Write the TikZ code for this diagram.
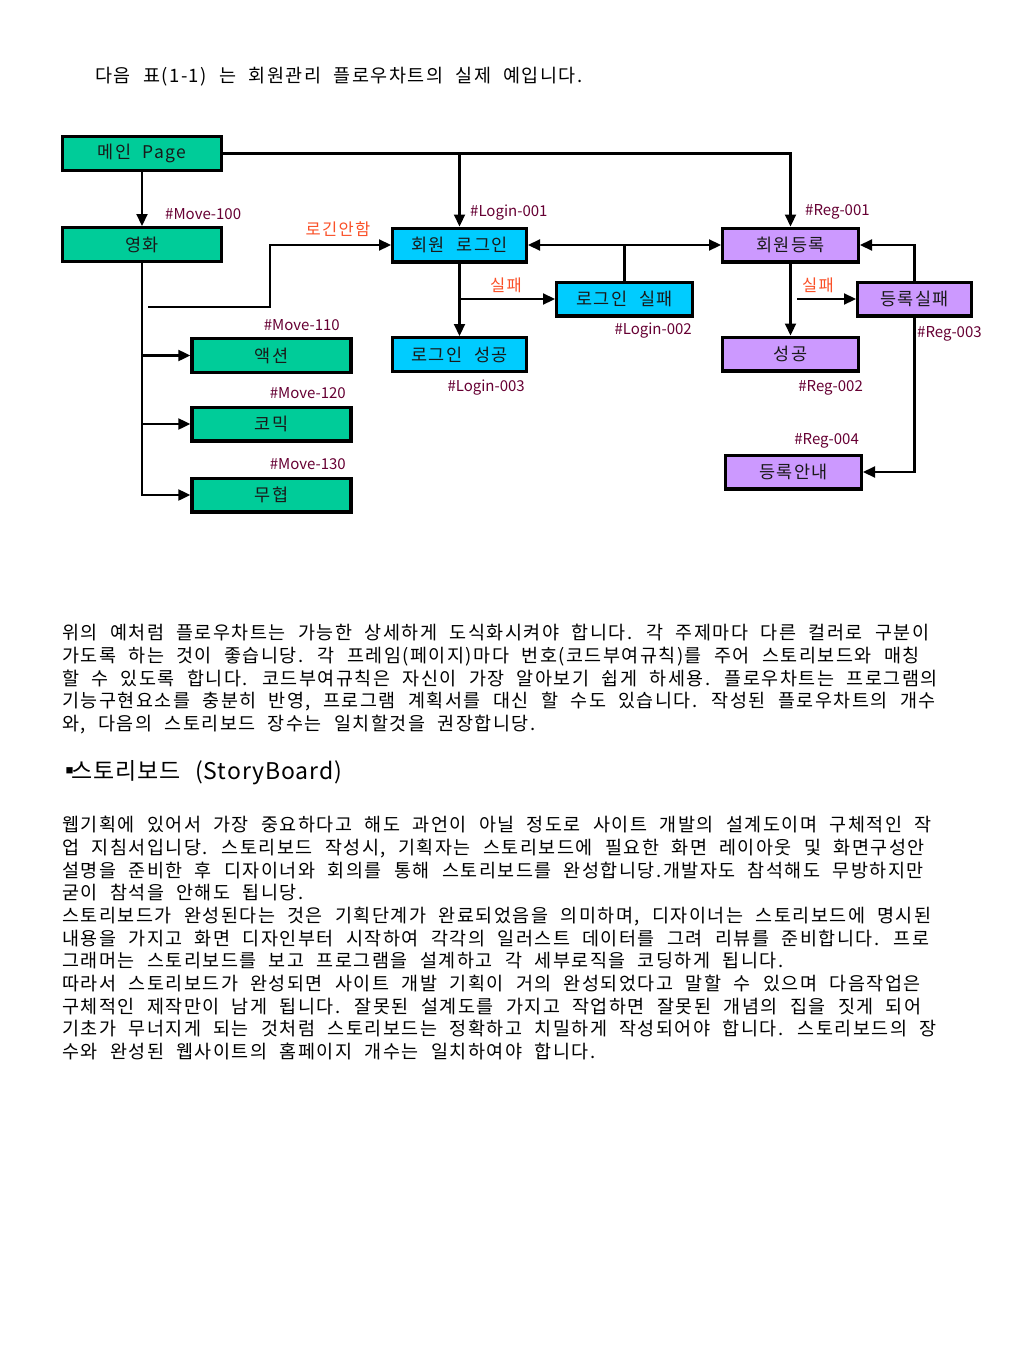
\documentclass[tikz,border=0pt]{standalone}
\usepackage{fontspec}
\newfontfamily\kr[WordSpace=2.2,LetterSpace=8]{Noto Sans CJK KR}
\newfontfamily\krh[WordSpace=2.4,LetterSpace=4]{Noto Sans CJK KR}
\newfontfamily\krn{Noto Sans CJK KR}
\usetikzlibrary{arrows.meta,positioning,calc}
\definecolor{mvgreen}{RGB}{0,204,153}
\definecolor{lgblue}{RGB}{0,204,255}
\definecolor{rgpurple}{RGB}{204,153,255}
\definecolor{codered}{RGB}{102,0,51}
\definecolor{failred}{RGB}{250,80,40}

\begin{document}
\begin{tikzpicture}[x=1pt, y=-1pt,
    box/.style={draw, line width=3.4pt, minimum width=135.6pt, minimum height=33.6pt, inner sep=0pt, align=center, font=\kr\fontsize{17.5}{17.5}\selectfont, text=black!90},
    grn/.style={box, fill=mvgreen, minimum width=159pt},
    blu/.style={box, fill=lgblue},
    pur/.style={box, fill=rgpurple},
    arr/.style={-{Triangle[length=12pt,width=11pt]}, line width=2.2pt},
    ln/.style={line width=2.2pt},
    code/.style={font=\krn\fontsize{15}{15}\selectfont, text=codered, inner sep=0pt},
    fail/.style={font=\kr\fontsize{16.5}{16.5}\selectfont, text=failred, inner sep=0pt},
    para/.style={anchor=north west, align=left, inner sep=0pt, font=\kr\fontsize{18.5}{22.7}\selectfont}
]
\useasboundingbox (0,0) rectangle (1024,1365);

\node[anchor=west, inner sep=0pt, font=\kr\fontsize{18.5}{18.5}\selectfont] (T) at (95,77) {다음 표(1-1) 는 회원관리 플로우차트의 실제 예입니다.};

\node[grn] (MP) at (142,153.5) {메인 Page};
\node[grn] (MV) at (142,244.5) {영화};
\node[grn] (AC) at (271.5,355.5) {액션};
\node[grn] (CO) at (271.5,424) {코믹};
\node[grn] (WU) at (271.5,495) {무협};
\node[blu, minimum width=133.6pt] (LG) at (459.5,245) {회원 로그인};
\node[blu] (LF) at (624.5,299) {로그인 실패};
\node[blu, minimum width=133.6pt] (LS) at (459.5,354.5) {로그인 성공};
\node[pur] (RG) at (790.5,245) {회원등록};
\node[pur, minimum width=113.6pt] (RF) at (914.5,299) {등록실패};
\node[pur] (RS) at (790.5,354) {성공};
\node[pur] (RI) at (793.5,472) {등록안내};

\node[code, anchor=west] (C100) at (165,214) {\#Move-100};
\node[code, anchor=east] (C110) at (340,325) {\#Move-110};
\node[code, anchor=east] (C120) at (346,393) {\#Move-120};
\node[code, anchor=east] (C130) at (346,464) {\#Move-130};
\node[code, anchor=west] (L001) at (470,213) {\#Login-001};
\node[code, anchor=east] (L002) at (692,331) {\#Login-002};
\node[code, anchor=east] (L003) at (525,388) {\#Login-003};
\node[code, anchor=west] (R001) at (805,212) {\#Reg-001};
\node[code, anchor=east] (R002) at (863,388) {\#Reg-002};
\node[code, anchor=west] (R003) at (917,334) {\#Reg-003};
\node[code, anchor=east] (R004) at (859,441) {\#Reg-004};
\node[fail] (NL) at (338,229) {로긴안함};
\node[fail] (F1) at (506,285) {실패};
\node[fail] (F2) at (818,285) {실패};

\coordinate (nl0) at (148,307);
\coordinate (nl1) at (270,245);
\coordinate (lfj) at (LF.north |- LG.east);
\coordinate (rf0) at (797,299);

\draw[arr] (MP) -- (MV);
\draw[arr] (MP.east) -| (RG.north);
\draw[arr] (LG.north |- MP.east) -- (LG.north);
\draw[arr] (MV.south) |- (AC.west);
\draw[arr] (MV.south) |- (CO.west);
\draw[arr] (MV.south) |- (WU.west);
\draw[arr] (nl0) -| (nl1) -- (LG.west);
\draw[arr] (LG) -- (LS);
\draw[arr] (LG.south |- LF.west) -- (LF.west);
\draw[ln] (LF.north) -- (lfj);
\draw[arr] (lfj) -- (LG.east);
\draw[arr] (lfj) -- (RG.west);
\draw[arr] (RG) -- (RS);
\draw[arr] (rf0) -- (RF.west);
\draw[arr] (RF.north) |- (RG.east);
\draw[arr] (RF.south) |- (RI.east);

\node[para] (P1) at (62,624) {위의 예처럼 플로우차트는 가능한 상세하게 도식화시켜야 합니다. 각 주제마다 다른 컬러로 구분이\\
가도록 하는 것이 좋습니당. 각 프레임(페이지)마다 번호(코드부여규칙)를 주어 스토리보드와 매칭\\
할 수 있도록 합니다. 코드부여규칙은 자신이 가장 알아보기 쉽게 하세용. 플로우차트는 프로그램의\\
기능구현요소를 충분히 반영, 프로그램 계획서를 대신 할 수도 있습니다. 작성된 플로우차트의 개수\\
와, 다음의 스토리보드 장수는 일치할것을 권장합니당.};

\node[anchor=west, inner sep=0pt, font=\krh\fontsize{23}{23}\selectfont] (H) at (58,773) {▪\hspace{-10pt}스토리보드 (StoryBoard)};

\node[para] (P2) at (62,816) {웹기획에 있어서 가장 중요하다고 해도 과언이 아닐 정도로 사이트 개발의 설계도이며 구체적인 작\\
업 지침서입니당. 스토리보드 작성시, 기획자는 스토리보드에 필요한 화면 레이아웃 및 화면구성안\\
설명을 준비한 후 디자이너와 회의를 통해 스토리보드를 완성합니당.개발자도 참석해도 무방하지만\\
굳이 참석을 안해도 됩니당.\\
스토리보드가 완성된다는 것은 기획단계가 완료되었음을 의미하며, 디자이너는 스토리보드에 명시된\\
내용을 가지고 화면 디자인부터 시작하여 각각의 일러스트 데이터를 그려 리뷰를 준비합니다. 프로\\
그래머는 스토리보드를 보고 프로그램을 설계하고 각 세부로직을 코딩하게 됩니다.\\
따라서 스토리보드가 완성되면 사이트 개발 기획이 거의 완성되었다고 말할 수 있으며 다음작업은\\
구체적인 제작만이 남게 됩니다. 잘못된 설계도를 가지고 작업하면 잘못된 개념의 집을 짓게 되어\\
기초가 무너지게 되는 것처럼 스토리보드는 정확하고 치밀하게 작성되어야 합니다. 스토리보드의 장\\
수와 완성된 웹사이트의 홈페이지 개수는 일치하여야 합니다.};
\end{tikzpicture}
\end{document}
